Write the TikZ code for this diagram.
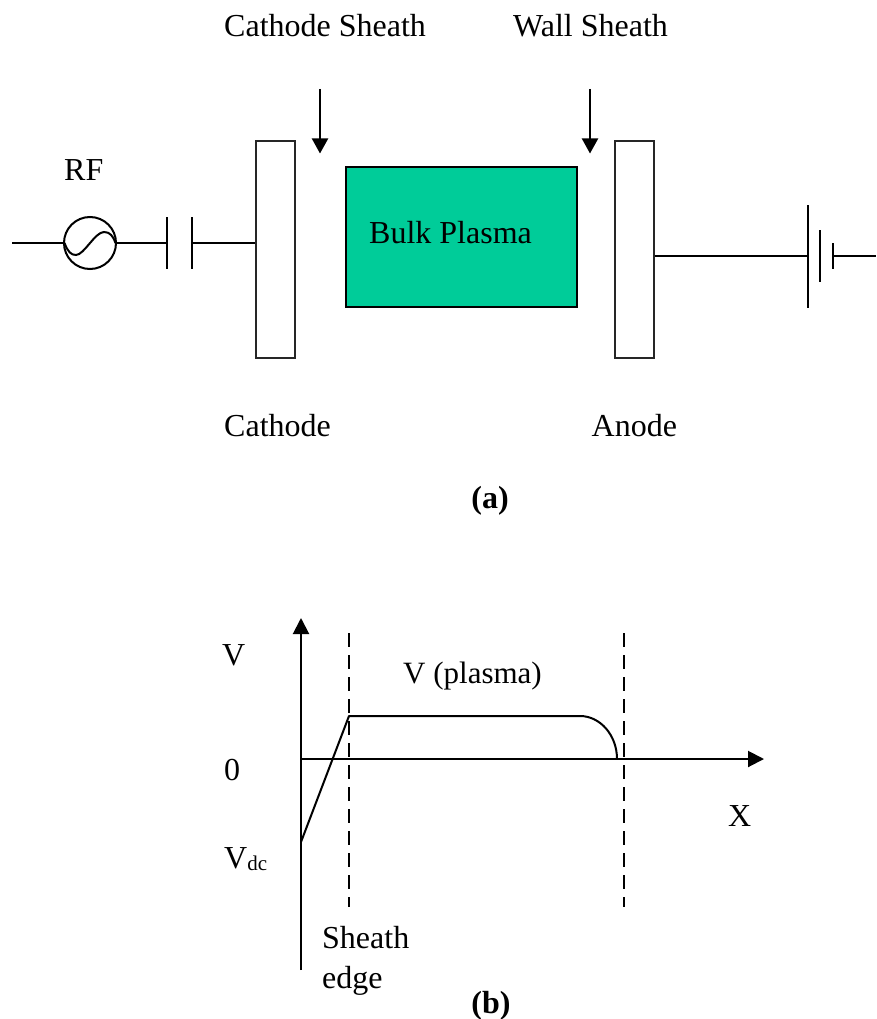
\documentclass[tikz,border=0pt]{standalone}
\usepackage{fontspec}
\setmainfont{Liberation Serif}
\usetikzlibrary{arrows.meta}
\tikzset{
  wire/.style={line width=2pt,line cap=butt},
  plate/.style={draw=black!85,line width=1.8pt,fill=white,minimum width=39pt,minimum height=217pt,inner sep=0pt},
  bulk/.style={draw=black,line width=2.4pt,fill=plasmagreen,minimum width=231pt,minimum height=140pt,inner sep=0pt},
  source/.style={circle,draw=black,line width=2pt,minimum size=52pt,inner sep=0pt},
  lbl/.style={anchor=base west,inner sep=0pt,font=\fontsize{32}{36}\selectfont},
  lblb/.style={anchor=base,inner sep=0pt,font=\fontsize{32}{36}\selectfont\bfseries},
  axis/.style={wire,-{Triangle[length=16pt,width=16pt]}},
  downarrow/.style={wire,-{Triangle[length=15pt,width=16pt]}},
  guide/.style={line width=2pt,dash pattern=on 14pt off 8pt}
}
\definecolor{plasmagreen}{RGB}{0,204,153}
\begin{document}
\begin{tikzpicture}[x=1pt,y=-1pt]
\useasboundingbox (0,0) rectangle (876,1019);
% electrodes and plasma
\node[plate] (cathode) at (275.5,249.5) {};
\node[plate] (anode) at (634.5,249.5) {};
\node[bulk] (plasma) at (461.5,237) {};
% labels (a)
\node[lbl] (tcs) at (224,36.5) {Cathode Sheath};
\node[lbl] (tws) at (513,36.5) {Wall Sheath};
\node[lbl] (trf) at (64,181) {RF};
\node[lbl] (tbp) at (369,243) {Bulk Plasma};
\node[lbl] (tcat) at (224,436) {Cathode};
\node[lbl] (tano) at (591.5,436) {Anode};
\node[lblb] (ta) at (490,508) {(a)};
% sheath arrows
\coordinate (a1s) at (320,89); \coordinate (a1e) at (320,153.5);
\coordinate (a2s) at (590,89); \coordinate (a2e) at (590,153.5);
\draw[downarrow] (a1s) -- (a1e);
\draw[downarrow] (a2s) -- (a2e);
% RF source and capacitor
\node[source] (rf) at (90,243) {};
\coordinate (lend) at (12,243);
\coordinate (c1) at (167,243); \coordinate (c2) at (192,243);
\coordinate (c1t) at (167,217); \coordinate (c1b) at (167,269);
\coordinate (c2t) at (192,217); \coordinate (c2b) at (192,269);
\draw[wire] (lend) -- (rf);
\draw[wire] (rf) -- (c1);
\draw[wire] (c1t) -- (c1b);
\draw[wire] (c2t) -- (c2b);
\draw[wire] (c2) -- (c2 -| cathode.west);
\draw[line width=2pt] (64.5,243) .. controls (68,252) and (71,255) .. (76,255)
  .. controls (84,255) and (95,232) .. (104,232)
  .. controls (110,232) and (113,236) .. (115.5,243);
% battery
\coordinate (b1) at (808,256); \coordinate (b3) at (833,256); \coordinate (rend) at (876,256);
\coordinate (b1t) at (808,205); \coordinate (b1b) at (808,308);
\coordinate (b2t) at (820,230); \coordinate (b2b) at (820,282);
\coordinate (b3t) at (833,243); \coordinate (b3b) at (833,269);
\draw[wire] (b1 -| anode.east) -- (b1);
\draw[wire] (b1t) -- (b1b);
\draw[wire] (b2t) -- (b2b);
\draw[wire] (b3t) -- (b3b);
\draw[wire] (b3) -- (rend);
% graph (b)
\coordinate (yb) at (301,970); \coordinate (yt) at (301,618);
\coordinate (x0) at (301,759); \coordinate (xe) at (764,759);
\coordinate (d1t) at (349,633); \coordinate (d1b) at (349,907);
\coordinate (d2t) at (624,633); \coordinate (d2b) at (624,907);
\coordinate (vdc) at (301,842); \coordinate (se) at (349,716);
\coordinate (pe) at (580,716); \coordinate (pz) at (617,759);
\draw[axis] (yb) -- (yt);
\draw[axis] (x0) -- (xe);
\draw[guide] (d1t) -- (d1b);
\draw[guide] (d2t) -- (d2b);
\draw[wire,line join=round] (vdc) -- (se) -- (pe) .. controls (600,716) and (617,735) .. (pz);
\node[lbl] (tv) at (222,665) {V};
\node[lbl,font=\fontsize{31}{36}\selectfont] (tvp) at (403,683) {V (plasma)};
\node[lbl] (t0) at (224,780) {0};
\node[lbl] (tvd) at (224,868) {V\raisebox{-0.2ex}{\fontsize{21}{24}\selectfont dc}};
\node[lbl] (tx) at (728,826) {X};
\node[lbl] (ts) at (322,948) {Sheath};
\node[lbl] (te) at (322,988.5) {edge};
\node[lblb] (tb) at (491,1013) {(b)};
\end{tikzpicture}
\end{document}
